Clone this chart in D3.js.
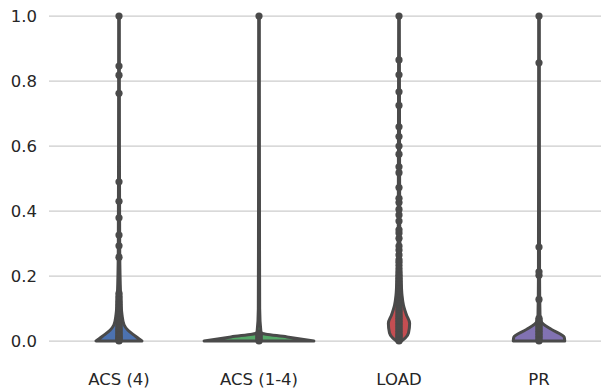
<!DOCTYPE html>
<html>
<head>
<meta charset="utf-8">
<script src="https://cdn.jsdelivr.net/npm/d3@7"></script>
<style>
  body { margin: 0; background: #fff; }
  svg { display: block; font-family: "DejaVu Sans", sans-serif; }
</style>
</head>
<body>
<div id="chart"></div>
<script>
// categories and their violin colours
var categories = ["ACS (4)", "ACS (1-4)", "LOAD", "PR"];
var colors = ["#4C72B0", "#55A868", "#C44E52", "#8172B2"];
var yTicks = [0, 0.2, 0.4, 0.6, 0.8, 1.0];

// density profile of each violin: [value, relative density]
var profileAcs4 = [[0, 0.41], [0.006, 0.36], [0.018, 0.27], [0.033, 0.16], [0.05, 0.09],
    [0.08, 0.054], [0.15, 0.027], [0.3, 0.012], [0.6, 0.008], [1.0, 0.006]];
var profileAcs14 = [[0, 0.98], [0.0125, 0.5], [0.025, 0.036], [0.1, 0.012], [0.5, 0.008], [1.0, 0.006]];
var profileLoad = [[0, 0.045], [0.01, 0.116], [0.025, 0.17], [0.055, 0.19], [0.08, 0.134],
    [0.11, 0.08], [0.14, 0.054], [0.2, 0.036], [0.25, 0.021], [0.4, 0.012], [1.0, 0.006]];
var profilePr = [[0, 0.46], [0.012, 0.45], [0.035, 0.23], [0.06, 0.036], [0.08, 0.018],
    [0.2, 0.01], [1.0, 0.006]];

// observations drawn as points on the centre line
var pointsAcs4 = [0, 0.002, 0.005, 0.008, 0.01, 0.013, 0.016, 0.02, 0.024, 0.028, 0.032,
    0.036, 0.04, 0.045, 0.05, 0.055, 0.06, 0.066, 0.072, 0.078, 0.085, 0.092, 0.1, 0.108,
    0.115, 0.122, 0.13, 0.138, 0.147, 0.258, 0.293, 0.326, 0.379, 0.43, 0.49, 0.762, 0.818,
    0.846, 1.0];
var pointsAcs14 = [0, 0.004, 0.008, 0.012, 0.016, 0.02, 0.024, 1.0];
var pointsLoad = [0, 0.004, 0.008, 0.012, 0.016, 0.02, 0.025, 0.03, 0.035, 0.04, 0.045,
    0.05, 0.055, 0.06, 0.065, 0.07, 0.075, 0.08, 0.086, 0.092, 0.098, 0.105, 0.112, 0.12,
    0.128, 0.136, 0.145, 0.154, 0.163, 0.172, 0.182, 0.192, 0.202, 0.212, 0.222, 0.232,
    0.242, 0.25, 0.265, 0.28, 0.292, 0.316, 0.332, 0.342, 0.369, 0.388, 0.405, 0.426,
    0.439, 0.472, 0.518, 0.536, 0.575, 0.6, 0.629, 0.659, 0.725, 0.767, 0.819, 0.865, 1.0];
var pointsPr = [0, 0.005, 0.01, 0.015, 0.02, 0.025, 0.03, 0.035, 0.04, 0.045, 0.05, 0.055,
    0.06, 0.065, 0.07, 0.128, 0.202, 0.213, 0.289, 0.856, 1.0];

var profiles = [profileAcs4, profileAcs14, profileLoad, profilePr];
var points = [pointsAcs4, pointsAcs14, pointsLoad, pointsPr];

var width = 601, height = 389,
    margin = {top: 16, right: -8, bottom: 48, left: 49},
    edge = "#4a4a4a";

var svg = d3.select("#chart").append("svg")
    .attr("width", width)
    .attr("height", height);

var x = d3.scaleBand()
    .domain(categories)
    .range([margin.left, width - margin.right])
    .padding(0);

var y = d3.scaleLinear()
    .domain([0, 1])
    .range([height - margin.bottom, margin.top]);

// relative density -> half width in pixels
var w = d3.scaleLinear()
    .domain([0, 1])
    .range([0, 56]);

// gridlines
svg.append("g")
    .selectAll("line")
    .data(yTicks)
    .enter()
    .append("line")
    .attr("x1", margin.left)
    .attr("x2", width)
    .attr("y1", function (d) { return y(d); })
    .attr("y2", function (d) { return y(d); })
    .attr("stroke", "#cccccc")
    .attr("stroke-width", 1.25);

// y tick labels
svg.append("g")
    .selectAll("text")
    .data(yTicks)
    .enter()
    .append("text")
    .attr("x", 37)
    .attr("y", function (d) { return y(d); })
    .attr("dy", "0.36em")
    .attr("text-anchor", "end")
    .attr("fill", "#262626")
    .style("font-size", "16.5px")
    .text(function (d) { return d3.format(".1f")(d); });

// x tick labels
svg.append("g")
    .selectAll("text")
    .data(categories)
    .enter()
    .append("text")
    .attr("x", function (d) { return x(d) + x.bandwidth() / 2; })
    .attr("y", 385)
    .attr("text-anchor", "middle")
    .attr("fill", "#262626")
    .style("font-size", "16.5px")
    .text(function (d) { return d; });

// violins
var violins = svg.selectAll("g.violin")
    .data(categories)
    .enter()
    .append("g")
    .attr("class", "violin")
    .attr("transform", function (d) {
        return "translate(" + (x(d) + x.bandwidth() / 2) + ",0)";
    });

var area = d3.area()
    .y(function (d) { return y(d[0]); })
    .x0(function (d) { return -w(d[1]); })
    .x1(function (d) { return w(d[1]); })
    .curve(d3.curveMonotoneY);

violins.append("path")
    .attr("d", function (d, i) { return area(profiles[i]); })
    .attr("fill", function (d, i) { return colors[i]; })
    .attr("stroke", edge)
    .attr("stroke-width", 3)
    .attr("stroke-linejoin", "round");

// inner points
violins.selectAll("circle")
    .data(function (d, i) { return points[i]; })
    .enter()
    .append("circle")
    .attr("cx", 0)
    .attr("cy", function (d) { return y(d); })
    .attr("r", 3.6)
    .attr("fill", edge);
</script>
</body>
</html>
